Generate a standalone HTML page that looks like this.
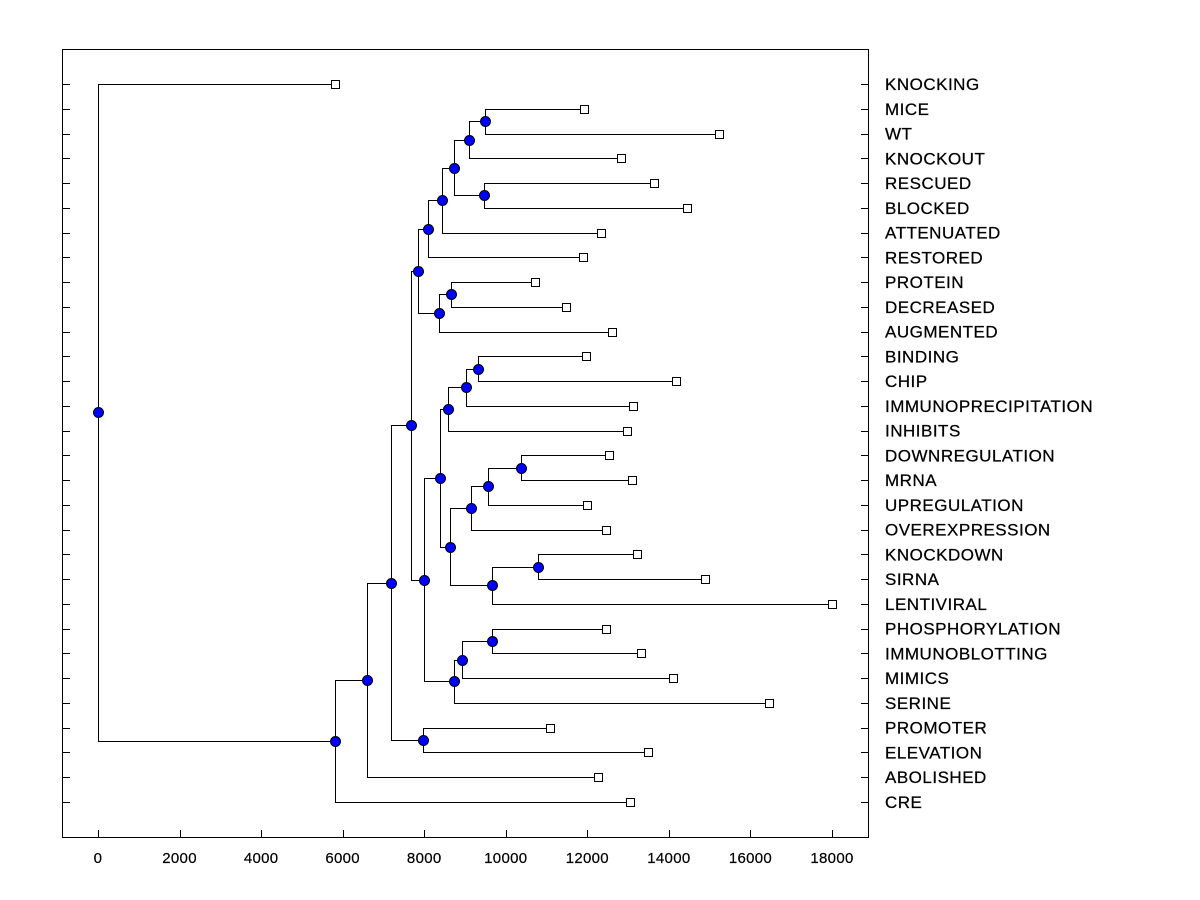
<!DOCTYPE html>
<html><head><meta charset="utf-8"><style>
html,body{margin:0;padding:0;background:#fff;}
svg{display:block;font-family:"Liberation Sans",Arial,sans-serif;}
</style></head><body>
<svg id="chart" width="1200" height="900" viewBox="0 0 1200 900" xmlns="http://www.w3.org/2000/svg">
<rect x="62.5" y="49.5" width="806" height="788" fill="none" stroke="#000" stroke-width="1"/>
</svg>
<script>
const leafLabels = ["KNOCKING","MICE","WT","KNOCKOUT","RESCUED","BLOCKED","ATTENUATED","RESTORED","PROTEIN","DECREASED","AUGMENTED","BINDING","CHIP","IMMUNOPRECIPITATION","INHIBITS","DOWNREGULATION","MRNA","UPREGULATION","OVEREXPRESSION","KNOCKDOWN","SIRNA","LENTIVIRAL","PHOSPHORYLATION","IMMUNOBLOTTING","MIMICS","SERINE","PROMOTER","ELEVATION","ABOLISHED","CRE"];
const leafValues = [5812,11918,15229,12826,13635,14444,12335,11894,10717,11477,12605,11967,14174,13120,12973,12531,13095,11992,12458,13218,14885,18000,12458,13316,14101,16455,11085,13488,12262,13046];
const mergeLeft  = [1,30,4,31,33,34,8,36,35,11,39,40,15,42,43,19,45,44,41,22,49,50,48,38,26,53,55,56,0];
const mergeRight = [2,3,5,32,6,7,9,10,37,12,13,14,16,17,18,20,21,46,47,23,24,25,51,52,27,54,28,29,57];
const mergeHeight = [9490,9098,9466,8730,8436,8093,8657,8362,7848,9319,9024,8583,10373,9564,9147,10790,9662,8632,8387,9662,8926,8730,7995,7676,7970,7186,6597,5812,0];
const xTicks = [0,2000,4000,6000,8000,10000,12000,14000,16000,18000];

const NS="http://www.w3.org/2000/svg";
const svg=document.getElementById('chart');
const xs=v=>98+v*(734/18000);
const rowY=i=>84+i*(718/29);
function mk(t,a){const e=document.createElementNS(NS,t);for(const k in a)e.setAttribute(k,a[k]);return e;}

leafLabels.forEach((lab,i)=>{
  const y=Math.round(rowY(i))+0.5;
  const t1=mk('line',{x1:62,x2:70,y1:y,y2:y,stroke:'#000'});
  
  
  svg.appendChild(t1);
  const t2=mk('line',{x1:861,x2:869,y1:y,y2:y,stroke:'#000'});
  
  
  svg.appendChild(t2);
  const tx=mk('text',{x:885,y:rowY(i)+6,'font-size':17,'letter-spacing':0.5,fill:'#000',stroke:'#000','stroke-width':0.25});
  tx.textContent=lab;
  
  
  svg.appendChild(tx);
});
xTicks.forEach(v=>{
  const x=Math.round(xs(v))+0.5;
  const t=mk('line',{x1:x,x2:x,y1:830,y2:838,stroke:'#000'});
  
  
  svg.appendChild(t);
  const tx=mk('text',{x:xs(v),y:863,'font-size':15,'letter-spacing':0.3,'text-anchor':'middle',fill:'#000',stroke:'#000','stroke-width':0.2});
  tx.textContent=String(v);
  
  
  svg.appendChild(tx);
});

const N=leafLabels.length;
const nx=[],ny=[];
leafValues.forEach((v,i)=>{nx[i]=xs(v);ny[i]=rowY(i);});
mergeHeight.forEach((h,k)=>{
  const id=N+k,a=mergeLeft[k],b=mergeRight[k];
  nx[id]=xs(h);ny[id]=(ny[a]+ny[b])/2;
});
const lines=mk('g',{stroke:'#000','stroke-width':1,fill:'none'});


svg.appendChild(lines);
mergeHeight.forEach((h,k)=>{
  const id=N+k,x=Math.round(nx[id])+0.5;
  [mergeLeft[k],mergeRight[k]].forEach(c=>{
    const cy=Math.round(ny[c])+0.5;
    const p=mk('path',{d:`M${x},${Math.round(ny[id])+0.5}V${cy}H${Math.round(nx[c])+0.5}`});
    
    
    lines.appendChild(p);
  });
});
leafValues.forEach((v,i)=>{
  const r=mk('rect',{x:Math.round(nx[i])-3.5,y:Math.round(ny[i])-3.5,width:8,height:8,fill:'#fff',stroke:'#000'});
  
  
  svg.appendChild(r);
});
mergeHeight.forEach((h,k)=>{
  const id=N+k;
  const c=mk('circle',{cx:Math.round(nx[id])+0.5,cy:Math.round(ny[id])+0.5,r:5,fill:'#0000ff',stroke:'#000'});
  
  
  svg.appendChild(c);
});
</script>
</body></html>
